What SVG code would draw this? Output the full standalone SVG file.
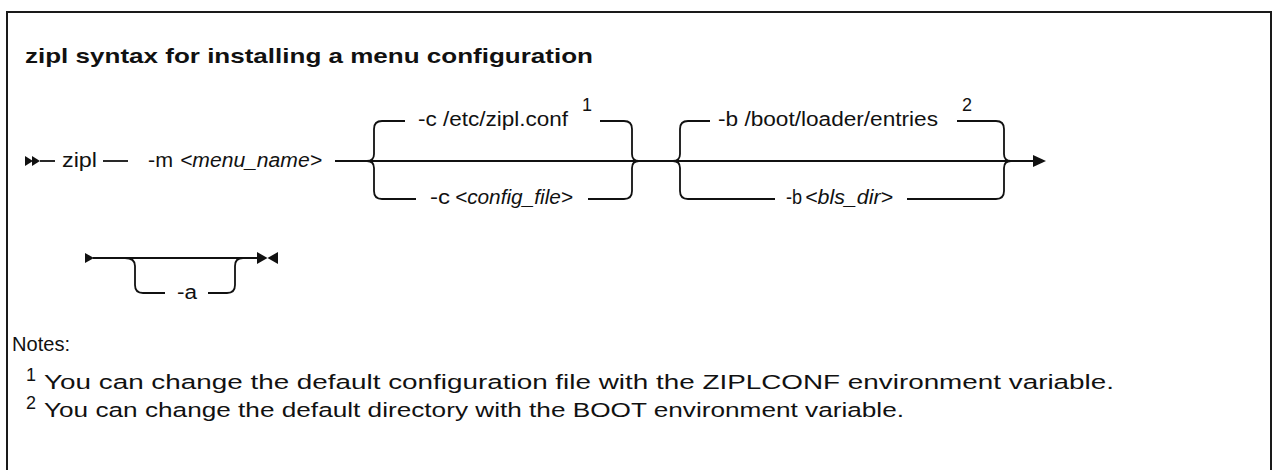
<svg xmlns="http://www.w3.org/2000/svg" width="1274" height="470" viewBox="0 0 1274 470">
<style>
.t{font-family:"Liberation Sans",Arial,sans-serif;font-size:19.5px;fill:#111}
.i{font-style:italic}
.title{font-family:"Liberation Sans",Arial,sans-serif;font-size:21px;font-weight:bold;fill:#111}
.note{font-family:"Liberation Sans",Arial,sans-serif;font-size:20.5px;fill:#111}
.sup{font-family:"Liberation Sans",Arial,sans-serif;font-size:18px;fill:#111}
.ln{fill:none;stroke:#111;stroke-width:1.8}
.ah{fill:#111}
</style>
<rect x="7" y="12" width="1264" height="480" fill="#fff" stroke="#1a1a1a" stroke-width="2"/>
<text class="title" x="25" y="63" textLength="568" lengthAdjust="spacingAndGlyphs">zipl syntax for installing a menu configuration</text>
<g id="connectors">
<polygon class="ah" points="25,156 33,161 25,166"/>
<polygon class="ah" points="32,156 40,161 32,166"/>
<path class="ln" d="M40,161 H55"/>
<path class="ln" d="M103,161 H128"/>
<path class="ln" d="M335,161 H1034"/>
<polygon class="ah" points="1033,155 1046,161 1033,167"/>
<path class="ln" d="M405,121 H382 Q374,121 374,129 V154 Q374,161 367,161"/>
<path class="ln" d="M416,199 H382 Q374,199 374,191 V168 Q374,161 367,161"/>
<path class="ln" d="M600,121 H624 Q632,121 632,129 V154 Q632,161 639,161"/>
<path class="ln" d="M588,199 H624 Q632,199 632,191 V168 Q632,161 639,161"/>
<path class="ln" d="M710,121 H688 Q680,121 680,129 V154 Q680,161 673,161"/>
<path class="ln" d="M775,199 H688 Q680,199 680,191 V168 Q680,161 673,161"/>
<path class="ln" d="M957,121 H996 Q1004,121 1004,129 V154 Q1004,161 1011,161"/>
<path class="ln" d="M907,199 H996 Q1004,199 1004,191 V168 Q1004,161 1011,161"/>
<polygon class="ah" points="85,253 94,258 85,263"/>
<path class="ln" d="M93,258 H258"/>
<polygon class="ah" points="257,252 267.5,258 257,264"/>
<polygon class="ah" points="278,252 267.5,258 278,264"/>
<path class="ln" d="M125,258 Q135,258 135,266 V285 Q135,293 143,293 H165"/>
<path class="ln" d="M208,293 H227 Q235,293 235,285 V266 Q235,258 243,258"/>
</g>
<g id="node-zipl"><text class="t" x="62" y="167" textLength="35" lengthAdjust="spacingAndGlyphs">zipl</text></g>
<g id="node-m">
<text class="t" x="148" y="167" textLength="25" lengthAdjust="spacingAndGlyphs">-m</text>
<text class="t i" x="180" y="167" textLength="142" lengthAdjust="spacingAndGlyphs">&lt;menu_name&gt;</text>
</g>
<g id="node-c-default">
<text class="t" x="418" y="126" textLength="150" lengthAdjust="spacingAndGlyphs">-c /etc/zipl.conf</text>
<text class="sup" x="582" y="111">1</text>
</g>
<g id="node-c-file">
<text class="t" x="430" y="204" textLength="20" lengthAdjust="spacingAndGlyphs">-c</text>
<text class="t i" x="455" y="204" textLength="118" lengthAdjust="spacingAndGlyphs">&lt;config_file&gt;</text>
</g>
<g id="node-b-default">
<text class="t" x="718" y="126" textLength="220" lengthAdjust="spacingAndGlyphs">-b /boot/loader/entries</text>
<text class="sup" x="962" y="111">2</text>
</g>
<g id="node-b-dir">
<text class="t" x="786" y="204" textLength="16" lengthAdjust="spacingAndGlyphs">-b</text>
<text class="t i" x="805" y="204" textLength="88" lengthAdjust="spacingAndGlyphs">&lt;bls_dir&gt;</text>
</g>
<g id="node-a"><text class="t" x="177" y="299" textLength="20" lengthAdjust="spacingAndGlyphs">-a</text></g>
<g id="notes">
<text class="note" x="12" y="351" textLength="58" lengthAdjust="spacingAndGlyphs">Notes:</text>
<text class="sup" x="26" y="381" font-size="14">1</text>
<text class="note" x="44" y="389" textLength="1070" lengthAdjust="spacingAndGlyphs">You can change the default configuration file with the ZIPLCONF environment variable.</text>
<text class="sup" x="26" y="409" font-size="14">2</text>
<text class="note" x="44" y="417" textLength="860" lengthAdjust="spacingAndGlyphs">You can change the default directory with the BOOT environment variable.</text>
</g>
</svg>
